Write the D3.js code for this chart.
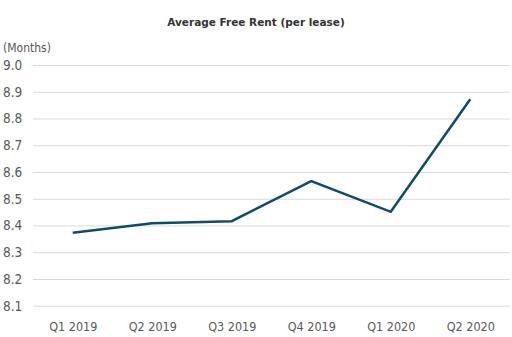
<!DOCTYPE html>
<html><head><meta charset="utf-8">
<script src="https://cdn.jsdelivr.net/npm/d3@7"></script>
<style>body{margin:0;background:#fff}</style>
</head><body>
<svg id="c" width="512" height="337"></svg>
<script>
const categories = ["Q1 2019","Q2 2019","Q3 2019","Q4 2019","Q1 2020","Q2 2020"];
const values = [8.373, 8.408, 8.416, 8.566, 8.451, 8.872];
const yTicks = [8.1,8.2,8.3,8.4,8.5,8.6,8.7,8.8,8.9,9.0];
const title = "Average Free Rent (per lease)";
const unitLabel = "(Months)";

(function(){
const svg = d3.select("#c");
const mL = 33, mR = 510, mT = 65, mB = 305.7;
const x = d3.scalePoint().domain(categories).range([mL, mR]).padding(0.5);
const y = d3.scaleLinear().domain([8.1, 9.0]).range([mB, mT]);
const cond = "'DejaVu Sans Condensed','DejaVu Sans',sans-serif";

svg.append("text").attr("x", 256).attr("y", 26).attr("text-anchor","middle")
  .attr("font-family","'DejaVu Sans',sans-serif").attr("font-weight","bold").attr("font-size",10.5)
  .attr("fill","#333").text(title);

svg.append("text").attr("x", 3).attr("y", 52).attr("font-family",cond).style("font-stretch","condensed")
  .attr("font-size",12).attr("fill","#595959").text(unitLabel);

const yAxis = svg.append("g").attr("transform",`translate(${mL},0)`)
  .call(d3.axisLeft(y).tickValues(yTicks).tickSize(-(mR-mL)).tickPadding(0).tickFormat(d3.format(".1f")));
yAxis.select(".domain").remove();
yAxis.selectAll(".tick line").attr("stroke","#d9d9d9").attr("stroke-width",1);
yAxis.selectAll(".tick text").attr("x",-30).attr("text-anchor","start")
  .attr("font-family",cond).style("font-stretch","condensed").attr("font-size",13.5).attr("fill","#595959");

const xAxis = svg.append("g").attr("transform",`translate(0,${mB})`)
  .call(d3.axisBottom(x).tickSize(0).tickPadding(16));
xAxis.select(".domain").remove();
xAxis.selectAll(".tick text").attr("font-family",cond).style("font-stretch","condensed").attr("font-size",12.5).attr("fill","#595959");

svg.append("path").datum(values)
  .attr("fill","none").attr("stroke","#0e4d68").attr("stroke-width",2.5).attr("stroke-linejoin","miter")
  .attr("d", d3.line().x((d,i)=>x(categories[i])).y(d=>y(d)));
})();
</script>
</body></html>
